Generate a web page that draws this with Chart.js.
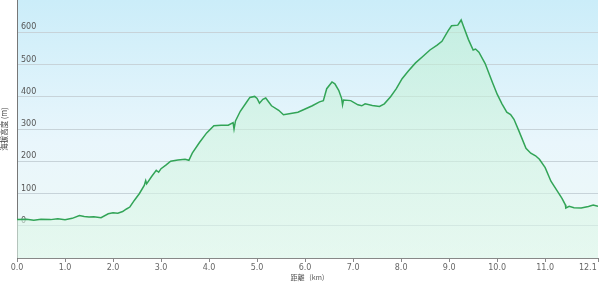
<!DOCTYPE html>
<html>
<head>
<meta charset="utf-8">
<script src="https://cdn.jsdelivr.net/npm/chart.js@4/dist/chart.umd.min.js"></script>
<style>
  html, body { margin: 0; padding: 0; background: #fff; }
  #wrap { width: 600px; height: 282px; }
</style>
</head>
<body>
<div id="wrap"><canvas id="chart"></canvas></div>
<script>
(function () {
  // distance along the route (km) and elevation (m)
  var distKm = [
    0.0, 0.2, 0.35, 0.5, 0.7, 0.85, 1.0, 1.15, 1.3, 1.4, 1.5, 1.6, 1.75, 1.9, 2.0, 2.1,
    2.2, 2.28, 2.35, 2.45, 2.55, 2.65, 2.68, 2.7, 2.8, 2.9, 2.95, 3.0, 3.1, 3.2, 3.35, 3.5,
    3.58, 3.65, 3.8, 3.95, 4.1, 4.25, 4.4, 4.5, 4.52, 4.55, 4.65, 4.78, 4.85, 4.95, 5.0, 5.05,
    5.12, 5.18, 5.3, 5.45, 5.55, 5.7, 5.85, 6.0, 6.15, 6.3, 6.38, 6.45, 6.56, 6.62, 6.7, 6.76,
    6.78, 6.8, 6.95, 7.1, 7.18, 7.25, 7.4, 7.55, 7.65, 7.78, 7.9, 8.02, 8.15, 8.3, 8.45, 8.6,
    8.75, 8.85, 8.98, 9.05, 9.18, 9.25, 9.3, 9.4, 9.5, 9.55, 9.62, 9.75, 9.9, 10.0, 10.1, 10.2,
    10.28, 10.35, 10.45, 10.6, 10.7, 10.8, 10.88, 11.0, 11.12, 11.25, 11.35, 11.42, 11.43, 11.5, 11.6, 11.75,
    11.9, 12.0, 12.1
  ];
  var elevM = [
    19, 20, 17, 20, 19, 22, 19, 23, 32, 29, 27, 28, 25, 37, 40, 39,
    44, 52, 58, 80, 100, 125, 140, 130, 152, 172, 166, 177, 188, 200, 204, 206,
    203, 225, 258, 288, 310, 312, 312, 320, 300, 325, 355, 383, 398, 401, 395, 380,
    392, 396, 372, 358, 344, 348, 352, 362, 372, 384, 388, 425, 446, 440, 420, 395,
    375, 390, 388, 375, 372, 378, 373, 370, 378, 400, 425, 456, 480, 505, 525, 545,
    560, 572, 605, 620, 622, 638, 618, 578, 545, 548, 538, 503, 445, 408, 378, 352,
    345, 330, 295, 240, 225, 217, 206, 180, 138, 108, 85, 65, 55, 60, 56, 55,
    60, 64, 60
  ];

  var xTicks = [0, 1, 2, 3, 4, 5, 6, 7, 8, 9, 10, 11, 12.1];
  var yTicks = [-100, 0, 100, 200, 300, 400, 500, 600, 700];
  var yLabelled = [0, 100, 200, 300, 400, 500, 600];

  var points = distKm.map(function (d, i) { return { x: d, y: elevM[i] }; });

  var plotBg = {
    id: 'plotBg',
    beforeDraw: function (chart) {
      var a = chart.chartArea;
      var c = chart.ctx;
      var g = c.createLinearGradient(0, a.top, 0, a.bottom);
      g.addColorStop(0, '#cbedf9');
      g.addColorStop(0.55, '#e9f6fc');
      g.addColorStop(1, '#eef9f6');
      c.save();
      c.fillStyle = g;
      c.fillRect(a.left, a.top, a.right - a.left, a.bottom - a.top);
      c.restore();
    }
  };

  function fillGradient(context) {
    var chart = context.chart;
    var a = chart.chartArea;
    if (!a) return 'rgba(200,240,215,0.5)';
    var g = chart.ctx.createLinearGradient(0, a.top, 0, a.bottom);
    g.addColorStop(0, 'rgba(185,238,205,0.55)');
    g.addColorStop(1, 'rgba(225,248,236,0.6)');
    return g;
  }

  function noEdgePadding(scale) {
    scale.paddingLeft = 0;
    scale.paddingRight = 0;
    scale.paddingTop = 0;
    scale.paddingBottom = 0;
  }

  new Chart(document.getElementById('chart'), {
    type: 'line',
    data: {
      datasets: [{
        data: points,
        borderColor: '#32a457',
        borderWidth: 1.5,
        backgroundColor: fillGradient,
        fill: 'start',
        pointRadius: 0,
        tension: 0
      }]
    },
    options: {
      responsive: true,
      maintainAspectRatio: false,
      animation: false,
      layout: { padding: { left: 0, right: 2, top: 0, bottom: 0 } },
      plugins: { legend: { display: false }, tooltip: { enabled: false } },
      scales: {
        x: {
          type: 'linear',
          min: 0,
          max: 12.1,
          afterBuildTicks: function (scale) {
            scale.ticks = xTicks.map(function (v) { return { value: v }; });
          },
          afterFit: noEdgePadding,
          ticks: {
            autoSkip: false,
            maxRotation: 0,
            padding: 1,
            color: '#666',
            font: { family: 'Verdana, DejaVu Sans, sans-serif', size: 8 },
            callback: function (v) {
              var s = Number(v).toFixed(1);
              // last label sits flush against the right edge
              return v === xTicks[xTicks.length - 1] ? s + '\u2007\u2007\u2007\u2007' : s;
            }
          },
          grid: { display: true, drawOnChartArea: false, tickLength: 4, color: '#888' },
          border: { color: '#888', width: 1 },
          title: {
            display: true,
            text: '距離   (km)',
            color: '#555',
            font: { family: 'Noto Sans CJK JP, sans-serif', size: 7 },
            padding: { top: 0, bottom: 0 }
          }
        },
        y: {
          min: -100,
          max: 700,
          afterBuildTicks: function (scale) {
            scale.ticks = yTicks.map(function (v) { return { value: v }; });
          },
          afterFit: noEdgePadding,
          ticks: {
            mirror: true,
            padding: 4,
            labelOffset: -5,
            color: '#555',
            font: { family: 'Verdana, DejaVu Sans, sans-serif', size: 8 },
            callback: function (v) { return yLabelled.indexOf(v) >= 0 ? String(v) : ''; }
          },
          grid: {
            drawTicks: false,
            color: function (ctx) {
              var v = ctx.tick && ctx.tick.value;
              return yLabelled.indexOf(v) >= 0 ? '#c7d3d9' : 'rgba(0,0,0,0)';
            },
            lineWidth: 1
          },
          border: { color: '#777', width: 1 },
          title: {
            display: true,
            text: '海拔高度 (m)',
            color: '#444',
            font: { family: 'Noto Sans CJK JP, sans-serif', size: 7.5 },
            padding: { top: 0, bottom: 0 }
          }
        }
      }
    },
    plugins: [plotBg]
  });
})();
</script>
</body>
</html>
